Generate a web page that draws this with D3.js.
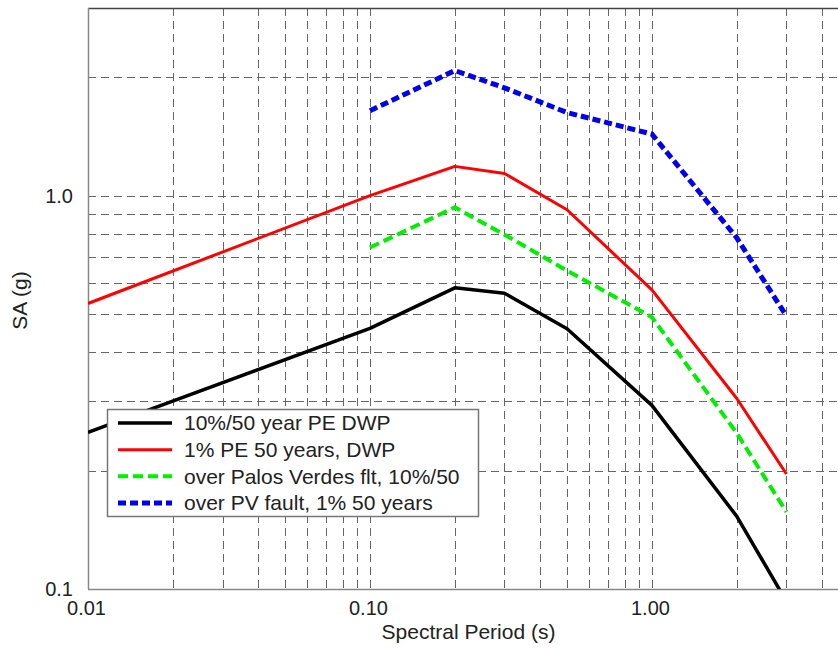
<!DOCTYPE html>
<html>
<head>
<meta charset="utf-8">
<script src="https://cdn.jsdelivr.net/npm/d3@7/dist/d3.min.js"></script>
<style>
  html, body { margin: 0; padding: 0; background: #fff; }
  svg { display: block; }
  text { font-family: "Liberation Sans", Arial, Helvetica, sans-serif; fill: #222; }
</style>
</head>
<body>
<svg id="chart" width="838" height="652"></svg>
<script>
// ---- data ----
const periods = [0.01, 0.1, 0.2, 0.3, 0.5, 1.0, 2.0, 3.0];
const periodsFault = [0.1, 0.2, 0.3, 0.5, 1.0, 2.0, 3.0];
const dwp10 = [0.25, 0.46, 0.583, 0.565, 0.459, 0.293, 0.153, 0.093];
const dwp1 = [0.532, 1.0, 1.187, 1.139, 0.921, 0.576, 0.305, 0.196];
const pv10 = [0.738, 0.934, 0.796, 0.645, 0.491, 0.249, 0.157];
const pv1 = [1.644, 2.08, 1.88, 1.627, 1.434, 0.781, 0.494];
const seriesNames = ["10%/50 year PE DWP", "1% PE 50 years, DWP", "over Palos Verdes flt, 10%/50", "over PV fault, 1% 50 years"];
const xTickValues = [0.01, 0.1, 1.0];
const xTickLabels = ["0.01", "0.10", "1.00"];
const yTickValues = [0.1, 1.0];
const yTickLabels = ["0.1", "1.0"];
const xGrid = [0.02,0.03,0.04,0.05,0.06,0.07,0.08,0.09,0.1,0.2,0.3,0.4,0.5,0.6,0.7,0.8,0.9,1,2,3,4];
const yGrid = [0.2,0.3,0.4,0.5,0.6,0.7,0.8,0.9,1,2];

const series = [
  { name: seriesNames[0], x: periods, y: dwp10, color: "#000000", width: 3.5, dash: null },
  { name: seriesNames[1], x: periods, y: dwp1, color: "#ff0000", width: 3, dash: null },
  { name: seriesNames[2], x: periodsFault, y: pv10, color: "#00ee00", width: 4, dash: "10,5" },
  { name: seriesNames[3], x: periodsFault, y: pv1, color: "#0000ee", width: 5, dash: "8,4" }
];

// ---- layout ----
const svg = d3.select("#chart");
const L = 88, T = 8, R = 849, B = 589;
const x = d3.scaleLog().domain([0.01, 5]).range([L, R]);
const y = d3.scaleLog().domain([0.1, 3]).range([B, T]);

svg.append("defs").append("clipPath").attr("id", "plotclip")
  .append("rect").attr("x", L).attr("y", T).attr("width", R - L).attr("height", B - T);

// grid
const grid = svg.append("g").attr("stroke", "#666").attr("stroke-width", 1).attr("stroke-dasharray", "8,5");
grid.selectAll("line.vx").data(xGrid).join("line")
  .attr("x1", d => Math.round(x(d)) + 0.5).attr("x2", d => Math.round(x(d)) + 0.5)
  .attr("y1", T).attr("y2", B);
grid.selectAll("line.hy").data(yGrid).join("line")
  .attr("y1", d => Math.round(y(d)) + 0.5).attr("y2", d => Math.round(y(d)) + 0.5)
  .attr("x1", L).attr("x2", R);

// frame
svg.append("line").attr("x1", L).attr("x2", R).attr("y1", T + 0.5).attr("y2", T + 0.5).attr("stroke", "#444").attr("stroke-width", 1.5);
svg.append("line").attr("x1", L).attr("x2", R).attr("y1", B + 0.5).attr("y2", B + 0.5).attr("stroke", "#888").attr("stroke-width", 1.5);
svg.append("line").attr("x1", L + 0.5).attr("x2", L + 0.5).attr("y1", T).attr("y2", B).attr("stroke", "#888").attr("stroke-width", 1.5);

// axes (labels only)
const xAxis = d3.axisBottom(x).tickValues(xTickValues).tickSize(0).tickPadding(12)
  .tickFormat((d, i) => xTickLabels[i]);
const gx = svg.append("g").attr("transform", `translate(0,${B})`).call(xAxis);
gx.select(".domain").remove();
gx.selectAll("text").attr("font-size", 20).attr("fill", "#222")
  .attr("font-family", "'Liberation Sans', Arial, sans-serif").attr("dx", -2);

const yAxis = d3.axisLeft(y).tickValues(yTickValues).tickSize(0).tickPadding(15)
  .tickFormat((d, i) => yTickLabels[i]);
const gy = svg.append("g").attr("transform", `translate(${L},0)`).call(yAxis);
gy.select(".domain").remove();
gy.selectAll("text").attr("font-size", 20).attr("fill", "#222")
  .attr("font-family", "'Liberation Sans', Arial, sans-serif");

// lines
const line = d3.line().x(d => x(d[0])).y(d => y(d[1]));
const plot = svg.append("g").attr("clip-path", "url(#plotclip)");
series.forEach(s => {
  plot.append("path")
    .datum(s.x.map((v, i) => [v, s.y[i]]))
    .attr("d", line)
    .attr("fill", "none")
    .attr("stroke", s.color)
    .attr("stroke-width", s.width)
    .attr("stroke-linejoin", "round")
    .attr("stroke-dasharray", s.dash);
});

// axis titles
svg.append("text").attr("x", (L + R) / 2).attr("y", 639).attr("text-anchor", "middle")
  .attr("font-size", 21).text("Spectral Period (s)");
svg.append("text").attr("transform", `translate(27,${(T + B) / 2 + 2}) rotate(-90)`)
  .attr("text-anchor", "middle").attr("font-size", 21).text("SA (g)");

// legend
const lg = svg.append("g");
lg.append("rect").attr("x", 107.5).attr("y", 409.5).attr("width", 371).attr("height", 107)
  .attr("fill", "#fff").attr("stroke", "#777").attr("stroke-width", 1.5);
const rowY = d3.scalePoint().domain(d3.range(series.length)).range([423, 503]);
series.forEach((s, i) => {
  const yy = rowY(i);
  lg.append("line").attr("x1", 118).attr("x2", 172).attr("y1", yy).attr("y2", yy)
    .attr("stroke", s.color).attr("stroke-width", s.width)
    .attr("stroke-dasharray", s.dash);
  lg.append("text").attr("x", 184).attr("y", yy).attr("dy", "0.35em")
    .attr("font-size", 21).text(s.name);
});
</script>
</body>
</html>
